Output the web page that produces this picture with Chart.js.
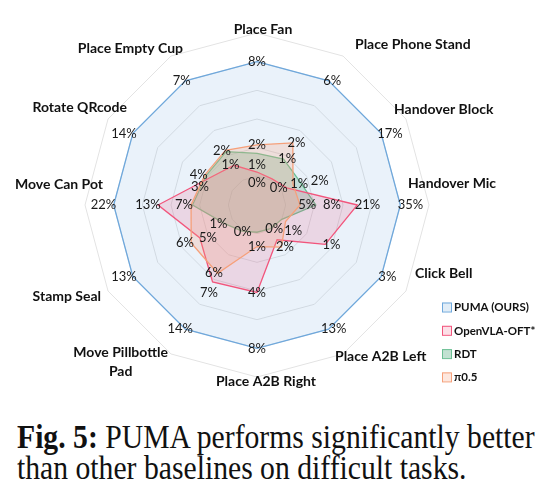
<!DOCTYPE html>
<html><head><meta charset="utf-8">
<script src="https://cdn.jsdelivr.net/npm/chart.js@4/dist/chart.umd.min.js"></script>
<style>
html,body{margin:0;padding:0;background:#fff;width:553px;height:503px;overflow:hidden;}
#wrap{position:relative;width:553px;height:503px;}
canvas{position:absolute;left:0;top:0;}
.cap{position:absolute;left:17px;white-space:nowrap;font-family:"Liberation Serif",serif;font-size:33px;color:#111;transform-origin:0 0;line-height:1;}
</style></head><body>
<div id="wrap"><canvas id="c" width="553" height="400"></canvas>
<div class="cap" id="cap1" style="top:421px"><b>Fig. 5:</b> PUMA performs significantly better</div>
<div class="cap" id="cap2" style="top:452px">than other baselines on difficult tasks.</div>
</div>
<script>
const categories = ['Place Fan','Place Phone Stand','Handover Block','Handover Mic','Click Bell','Place A2B Left','Place A2B Right',['Move Pillbottle','Pad'],'Stamp Seal','Move Can Pot','Rotate QRcode','Place Empty Cup'];
const seriesNames = ['PUMA (OURS)','OpenVLA-OFT*','RDT','\u03c00.5'];
// plotted (normalised) radii
const pumaValues    = [1,1,1,1,1,1,1,1,1,1,1,1];
const openvlaValues = [0.23,0.21,0.24,0.70,0.55,0.28,0.61,0.62,0.46,0.69,0.38,0.32];
const rdtValues     = [0.36,0.37,0.34,0.41,0.20,0.19,0.19,0.21,0.26,0.45,0.41,0.43];
const pi05Values    = [0.42,0.50,0.29,0.30,0.23,0.34,0.29,0.55,0.53,0.46,0.42,0.44];
// value labels shown on the figure ('' = not visible)
const pumaLabels    = ['8%','6%','17%','35%','3%','13%','8%','14%','13%','22%','14%','7%'];
const openvlaLabels = ['0%','','0%','21%','1%','1%','4%','7%','5%','13%','','1%'];
const rdtLabels     = ['1%','1%','2%','8%','','0%','0%','','1%','','3%',''];
const pi05Labels    = ['2%','2%','1%','5%','','2%','1%','6%','6%','7%','4%','2%'];
const scaleMax = 1.2, scaleStep = 0.2;

// layout tweaks for the category labels: [inner-edge (or centre) x shift, centre y shift] from the scale's outer point
const axisLabelNudge = [[6,-4],[12,-12],[-12,-10],[-21,-22],[9,-18],[-8,3],[9,4],[-3,8],[-7,5],[18,-21],[19,-12],[12,-8]];

const colors = [
  {line:'#6fa8dc', fill:'rgba(91,155,213,0.13)', box:'rgba(91,155,213,0.18)'},
  {line:'#f2557c', fill:'rgba(240,80,120,0.17)', box:'rgba(240,80,120,0.18)'},
  {line:'#6cbf94', fill:'rgba(100,180,140,0.30)', box:'rgba(100,180,140,0.4)'},
  {line:'#f6a07a', fill:'rgba(247,160,124,0.25)', box:'rgba(247,160,124,0.25)'}
];
const values = [pumaValues, openvlaValues, rdtValues, pi05Values];
const labels = [pumaLabels, openvlaLabels, rdtLabels, pi05Labels];
const orders = [4,2,3,1];
const labelPriority = [0,3,2,1];

const datasets = seriesNames.map((n,i)=>({
  label:n, data:values[i], valueLabels:labels[i], order:orders[i],
  borderColor:colors[i].line, backgroundColor:colors[i].fill, borderWidth:1.3,
  pointRadius:0, fill:true, boxFill:colors[i].box
}));

const axisLabelPlugin = {
  id:'axisLabels',
  afterDraw(chart){
    const s = chart.scales.r, ctx = chart.ctx;
    ctx.save();
    ctx.font = 'bold 14px Lato'; ctx.fillStyle = '#111'; ctx.textBaseline = 'middle'; ctx.textAlign = 'center';
    categories.forEach((lab,i)=>{
      const lines = Array.isArray(lab) ? lab : [lab];
      const p = s.getPointPosition(i, s.drawingArea);
      const ux = (p.x - s.xCenter)/s.drawingArea;
      const w = Math.max(...lines.map(l=>ctx.measureText(l).width));
      const lh = 19, h = lines.length*lh;
      const nx = axisLabelNudge[i][0], ny = axisLabelNudge[i][1];
      let cx;
      if (Math.abs(ux) < 0.1) cx = p.x + nx;
      else if (ux > 0) cx = p.x + nx + w/2;
      else cx = p.x + nx - w/2;
      const cy = p.y + ny;
      lines.forEach((l,k)=>ctx.fillText(l, cx, cy - h/2 + lh/2 + k*lh));
    });
    ctx.restore();
  }
};

const valueLabelPlugin = {
  id:'valueLabels',
  afterDatasetsDraw(chart){
    const s = chart.scales.r, ctx = chart.ctx;
    ctx.save();
    ctx.font = '13px Lato'; ctx.fillStyle = '#1a1a1a'; ctx.textAlign = 'center'; ctx.textBaseline = 'middle';
    const placed = [];
    const hit = (b)=>placed.some(q=>b.x1<q.x2 && b.x2>q.x1 && b.y1<q.y2 && b.y2>q.y1);
    labelPriority.forEach(di=>{
      const ds = chart.data.datasets[di];
      const meta = chart.getDatasetMeta(di);
      meta.data.forEach((pt,i)=>{
        const t = ds.valueLabels[i]; if (!t) return;
        const a = s.getPointPosition(i, 1);
        const ux = a.x - s.xCenter;
        const w = ctx.measureText(t).width, h = 11;
        const bx = pt.x + ux*w/2*0.8, by = pt.y;
        const cands = [[0,0],[w*0.5,0],[0,11],[w*0.8,0],[-w*0.8,0],[0,-11],[w*0.7,9],[-w*0.7,9],[w*0.7,-9],[-w*0.7,-9],[0,20],[0,-20]];
        let pos = [bx,by];
        for (const c of cands){
          const x = bx+c[0], y = by+c[1];
          const b = {x1:x-w/2, x2:x+w/2, y1:y-h/2, y2:y+h/2};
          if (!hit(b)) { pos=[x,y]; break; }
        }
        placed.push({x1:pos[0]-w/2, x2:pos[0]+w/2, y1:pos[1]-h/2, y2:pos[1]+h/2});
        ctx.fillText(t, pos[0], pos[1]);
      });
    });
    ctx.restore();
  }
};

const legendPlugin = {
  id:'boxLegend',
  afterDraw(chart){
    const ctx = chart.ctx;
    ctx.save();
    ctx.font = 'bold 11.5px Lato'; ctx.textBaseline = 'middle'; ctx.textAlign = 'left';
    chart.data.datasets.forEach((ds,i)=>{
      const y = 307 + i*23.3, x = 442;
      ctx.fillStyle = ds.boxFill; ctx.fillRect(x, y-4.5, 9, 9);
      ctx.strokeStyle = ds.borderColor; ctx.lineWidth = 1; ctx.strokeRect(x+0.5, y-4, 9, 9);
      ctx.fillStyle = '#111'; ctx.fillText(ds.label, x+12, y+0.5);
    });
    ctx.restore();
  }
};

new Chart(document.getElementById('c'), {
  type:'radar',
  data:{ labels: categories, datasets },
  options:{
    responsive:false, animation:false,
    layout:{ padding:{ left:85, right:124, top:33, bottom:23 } },
    plugins:{ legend:{display:false}, tooltip:{enabled:false} },
    elements:{ line:{ tension:0 } },
    scales:{ r:{
      min:0, max:scaleMax,
      ticks:{ display:false, stepSize:scaleStep },
      grid:{ color:'#e3e3e3', lineWidth:1 },
      angleLines:{ display:false },
      pointLabels:{ display:false }
    }}
  },
  plugins:[valueLabelPlugin, axisLabelPlugin, legendPlugin]
});

function fitCaption(){
  const c1 = document.getElementById('cap1'), c2 = document.getElementById('cap2');
  const k = 518 / c1.offsetWidth;
  c1.style.transform = 'scaleX(' + k + ')';
  c2.style.transform = 'scaleX(' + k + ')';
}
fitCaption();
</script>
</body></html>
